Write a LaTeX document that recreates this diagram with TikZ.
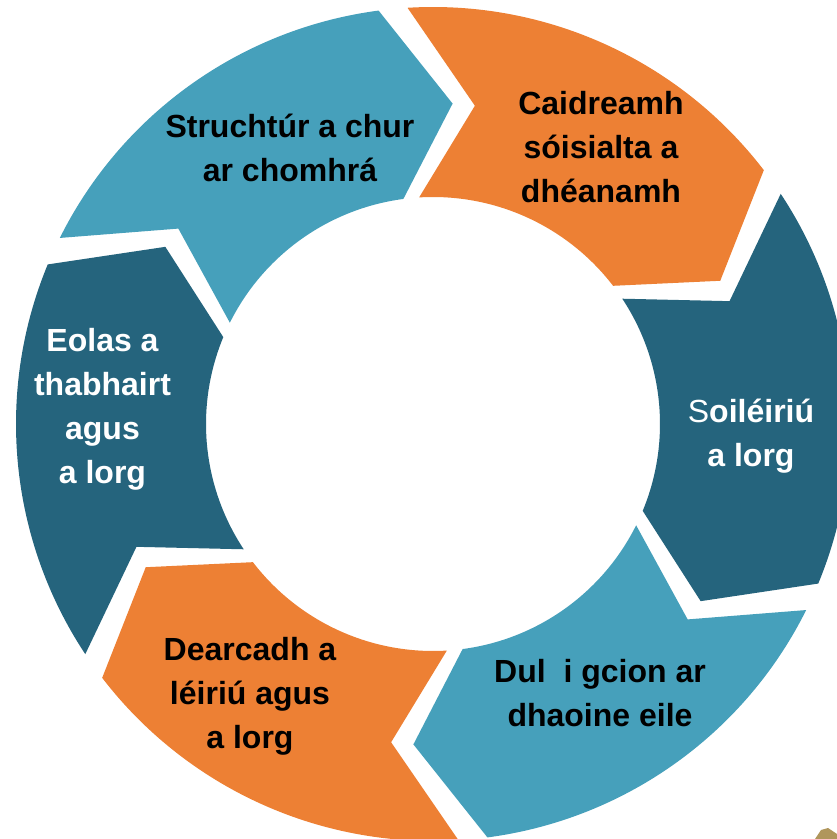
\documentclass[tikz,border=0pt]{standalone}
\usepackage{fontspec}
\setmainfont{Liberation Sans}
\definecolor{lteal}{RGB}{70,160,187}
\definecolor{dteal}{RGB}{37,100,125}
\definecolor{orng}{RGB}{237,128,52}
\definecolor{gold}{RGB}{176,150,92}
\begin{document}
\begin{tikzpicture}[x=1pt,y=1pt,
  lbl/.style={inner sep=0pt, align=center, font=\fontsize{32}{44}\selectfont\bfseries},
  dark/.style={lbl, text=white},
  light/.style={lbl, text=black}]
\useasboundingbox (0,0) rectangle (837,839);
\fill[white] (0,0) rectangle (837,839);
\def\Ro{417}\def\Ri{227}\def\Rm{321}\def\dd{11}
% segment: #1 colour, #2 tail angle, #3 head angle
\newcommand{\cycseg}[3]{%
  \fill[#1] (#2:\Ro) arc[start angle=#2, end angle=#3, radius=\Ro]
    -- ({#3-\dd}:\Rm) -- (#3:\Ri)
    arc[start angle=#3, end angle=#2, radius=\Ri]
    -- ({#2-\dd}:\Rm) -- cycle;}
\begin{scope}[shift={(433,415)}]
  \cycseg{orng}{93.5}{37.5}
  \cycseg{dteal}{33.5}{-22.5}
  \cycseg{lteal}{-26.5}{-82.5}
  \cycseg{orng}{-86.5}{-142.5}
  \cycseg{dteal}{213.5}{157.5}
  \cycseg{lteal}{153.5}{97.5}
\end{scope}
\node[light] (s1) at (601,688.8) {\strut Caidreamh\\\strut sóisialta a\\\strut dhéanamh};
\node[dark]  (s2) at (751,402.8) {\strut{\mdseries S}oiléiriú\\\strut a lorg};
\node[light] (s3) at (600,142.8) {\strut Dul~~i gcion ar\\\strut dhaoine eile};
\node[light] (s4) at (250,142.8) {\strut Dearcadh a\\\strut léiriú agus\\\strut a lorg};
\node[dark]  (s5) at (102.5,429.8) {\strut Eolas a\\\strut thabhairt\\\strut agus\\\strut a lorg};
\node[light] (s6) at (290,687.8) {\strut Struchtúr a chur\\\strut ar chomhrá};
% small cropped icon at the corner
\fill[gold] (815,0) -- (821,9) -- (828,11) -- (837,5) -- (837,0) -- cycle;
\end{tikzpicture}
\end{document}
